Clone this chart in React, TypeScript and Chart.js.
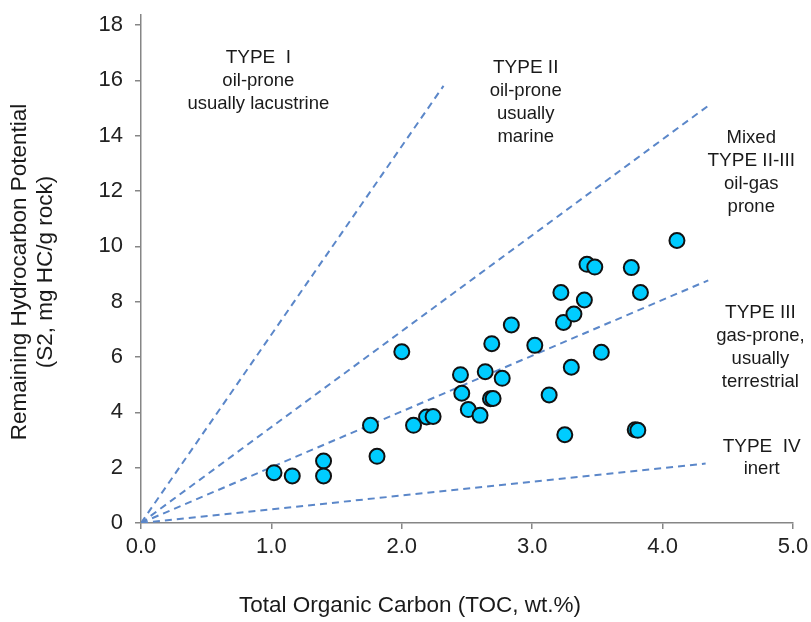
import React, { useEffect, useRef } from "react";
import { Chart, registerables } from "chart.js";
Chart.register(...registerables);

// Sample measurements: TOC (wt.%) and S2 (mg HC/g rock)
const tocValues = [
  1.02, 1.16, 1.4, 1.4, 1.76, 1.81, 2.0, 2.09, 2.19, 2.24, 2.45, 2.46, 2.51, 2.6,
  2.64, 2.69, 2.68, 2.7, 2.77, 2.84, 3.02, 3.13, 3.22, 3.24, 3.25, 3.3, 3.32, 3.4,
  3.42, 3.48, 3.53, 3.76, 3.83, 4.11, 3.79, 3.81,
];
const s2Values = [
  1.82, 1.7, 2.24, 1.7, 3.53, 2.41, 6.19, 3.53, 3.83, 3.85, 5.36, 4.69, 4.1, 3.89,
  5.47, 6.48, 4.49, 4.5, 5.23, 7.16, 6.42, 4.63, 8.33, 7.25, 3.19, 5.63, 7.55, 8.06,
  9.35, 9.25, 6.17, 9.23, 8.33, 10.21, 3.37, 3.35,
];

// Kerogen type boundary lines, from origin to these end points
const boundaryNames = ["Type I", "Type II", "Type II-III", "Type IV"];
const boundaryEndX = [2.32, 4.35, 4.35, 4.33];
const boundaryEndY = [15.8, 15.08, 8.77, 2.15];

// Region labels (anchor in data units: x centre, y of first line)
const regionLines = [
  ["TYPE  I", "oil-prone", "usually lacustrine"],
  ["TYPE II", "oil-prone", "usually", "marine"],
  ["Mixed", "TYPE II-III", "oil-gas", "prone"],
  ["TYPE III", "gas-prone,", "usually", "terrestrial"],
  ["TYPE  IV", "inert"],
];
const regionX = [0.9, 2.95, 4.68, 4.75, 4.76];
const regionY = [16.8, 16.45, 13.93, 7.6, 2.77];

const xTitle = "Total Organic Carbon (TOC, wt.%)";
const yTitleLines = ["Remaining Hydrocarbon Potential", "(S2, mg HC/g rock)"];

const FONT = "'Liberation Sans', Arial, sans-serif";

export default function App() {
  const ref = useRef<HTMLCanvasElement | null>(null);
  useEffect(() => {
    if (!ref.current) return;
    const textPlugin = {
      id: "texts",
      afterDraw(chart: any) {
        const ctx = chart.ctx;
        const xs = chart.scales.x;
        const ys = chart.scales.y;
        ctx.save();
        ctx.fillStyle = "#1a1a1a";
        ctx.textAlign = "center";
        ctx.textBaseline = "middle";
        regionLines.forEach((lines, i) => {
          const cx = xs.getPixelForValue(regionX[i]);
          const cy = ys.getPixelForValue(regionY[i]);
          lines.forEach((t, j) => {
            const isType = t.startsWith("TYPE");
            ctx.font = (isType ? "19px " : "18.5px ") + FONT;
            ctx.fillText(t, cx, cy + j * 23);
          });
        });
        ctx.font = "22.5px " + FONT;
        ctx.fillText(xTitle, 410, 606);
        ctx.translate(0, 272);
        ctx.rotate(-Math.PI / 2);
        yTitleLines.forEach((t, j) => ctx.fillText(t, 0, 20 + j * 26));
        ctx.restore();
      },
    };
    const datasets: any[] = [
      {
        label: "Samples",
        data: tocValues.map((x, i) => ({ x, y: s2Values[i] })),
        pointRadius: 7.5,
        pointBackgroundColor: "#00ccff",
        pointBorderColor: "#111111",
        pointBorderWidth: 2,
        showLine: false,
        order: 0,
      },
      ...boundaryNames.map((name, i) => ({
        label: name,
        data: [
          { x: 0, y: 0 },
          { x: boundaryEndX[i], y: boundaryEndY[i] },
        ],
        showLine: true,
        borderColor: "#5b87c9",
        borderWidth: 2,
        borderDash: [7, 5],
        pointRadius: 0,
        order: 1,
      })),
    ];
    const chart = new Chart(ref.current, {
      type: "scatter",
      data: { datasets },
      plugins: [textPlugin],
      options: {
        animation: false,
        responsive: false,
        layout: { padding: { top: 15, right: 18, left: 0, bottom: 0 } },
        plugins: { legend: { display: false }, tooltip: { enabled: false } },
        scales: {
          x: {
            type: "linear",
            min: 0,
            max: 5,
            afterFit: (s: any) => {
              s.height = 99;
              s.paddingLeft = 0;
              s.paddingRight = 0;
            },
            ticks: {
              stepSize: 1,
              callback: (v: any) => Number(v).toFixed(1),
              font: { size: 22, family: FONT },
              color: "#222222",
              padding: 5,
              maxRotation: 0,
            },
            grid: { drawOnChartArea: false, tickLength: 6, color: "#868686", lineWidth: 1.5 },
            border: { color: "#868686", width: 1.5 },
          },
          y: {
            type: "linear",
            min: 0,
            max: 18.36,
            afterFit: (s: any) => {
              s.width = 141;
              s.paddingTop = 0;
              s.paddingBottom = 0;
            },
            ticks: {
              stepSize: 2,
              includeBounds: false,
              font: { size: 22, family: FONT },
              color: "#222222",
              padding: 12,
            },
            grid: { drawOnChartArea: false, tickLength: 6, color: "#868686", lineWidth: 1.5 },
            border: { color: "#868686", width: 1.5 },
          },
        },
      },
    });
    return () => chart.destroy();
  }, []);
  return (
    <div style={{ position: "absolute", left: 0, top: 0, width: 811, height: 622, background: "#fff" }}>
      <canvas ref={ref} width={811} height={622} style={{ display: "block" }} />
    </div>
  );
}
